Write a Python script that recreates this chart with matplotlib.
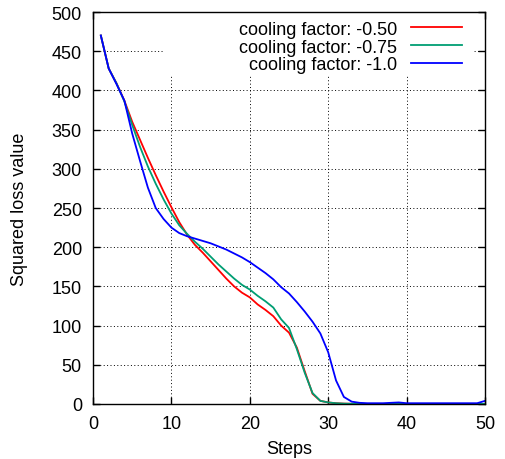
import matplotlib
matplotlib.use("Agg")
import matplotlib.pyplot as plt
from matplotlib.patches import Rectangle
import numpy as np

steps = list(range(1, 51))

loss_050 = [470, 428, 409, 387, 360, 337, 314, 292, 271, 251,
            232, 216, 203, 193, 182, 171, 160, 150, 142, 136,
            127, 120, 112, 100, 91, 72, 42, 13, 4, 2,
            1, 0.5, 0.3, 0.2, 0.1, 0.1, 0.1, 0.1, 0.1, 0.1,
            0.1, 0.1, 0.1, 0.1, 0.1, 0.1, 0.1, 0.1, 0.1, 0.1]

loss_075 = [470, 428, 409, 386, 356, 328, 303, 281, 261, 243,
            228, 217, 207, 198, 188, 178, 169, 160, 152, 146,
            138, 131, 123, 108, 97, 70, 40, 14, 4, 2,
            1, 0.5, 0.3, 0.2, 0.1, 0.1, 0.1, 0.1, 0.1, 0.1,
            0.1, 0.1, 0.1, 0.1, 0.1, 0.1, 0.1, 0.1, 0.1, 0.1]

loss_100 = [470, 428, 408, 387, 345, 310, 276, 250, 236, 225,
            218, 214, 211, 208, 205, 201, 197, 192, 187, 181,
            174, 167, 159, 149, 141, 130, 118, 105, 90, 66,
            30, 9, 3, 1.5, 1, 1, 1, 1.5, 2, 1,
            1, 1, 1, 1, 1, 1, 1, 1, 1, 4]

labels = ["cooling factor: -0.50", "cooling factor: -0.75", "cooling factor: -1.0"]
colors = ["#ff0000", "#009e73", "#0000ff"]

plt.rcParams['font.family'] = ['Liberation Sans', 'DejaVu Sans']
FS = 13

fig = plt.figure(figsize=(5.05, 4.6), dpi=100)
ax = fig.add_axes([93/505, 1 - 405/460, (485-93)/505, (405-13)/460])

for ys, lab, c in zip([loss_050, loss_075, loss_100], labels, colors):
    ax.plot(steps, ys, color=c, lw=1.3, label=lab, zorder=3)

ax.set_xlim(0, 50)
ax.set_ylim(0, 500)
ax.set_xticks(np.arange(0, 51, 10))
ax.set_yticks(np.arange(0, 501, 50))
ax.tick_params(direction='in', top=True, right=True, labelsize=FS, length=5, width=1, pad=8)
for s in ax.spines.values():
    s.set_linewidth(1.0)
    s.set_zorder(4)
ax.grid(True, color='black', linestyle=(0, (1, 2.5)), linewidth=0.7, zorder=1)
ax.set_axisbelow(True)

# opaque key area (hides grid behind the key, as in the original)
ax.add_patch(Rectangle((8.93, 418.4), 48.47 - 8.93, 500 - 418.4,
                       facecolor='white', edgecolor='none', zorder=2))

ax.set_xlabel("Steps", fontsize=FS, labelpad=6)
ax.set_ylabel("Squared loss value", fontsize=FS, labelpad=17)

leg = ax.legend(loc='upper right', bbox_to_anchor=(0.941, 0.978), markerfirst=False,
                fontsize=FS, frameon=False, handlelength=2.8, borderpad=0,
                labelspacing=0.05, borderaxespad=0, handletextpad=0.8)
leg.set_zorder(5)
for t in leg.get_texts():
    t.set_ha('right')
leg._legend_box.align = "right"

fig.savefig("out.png", dpi=100)
